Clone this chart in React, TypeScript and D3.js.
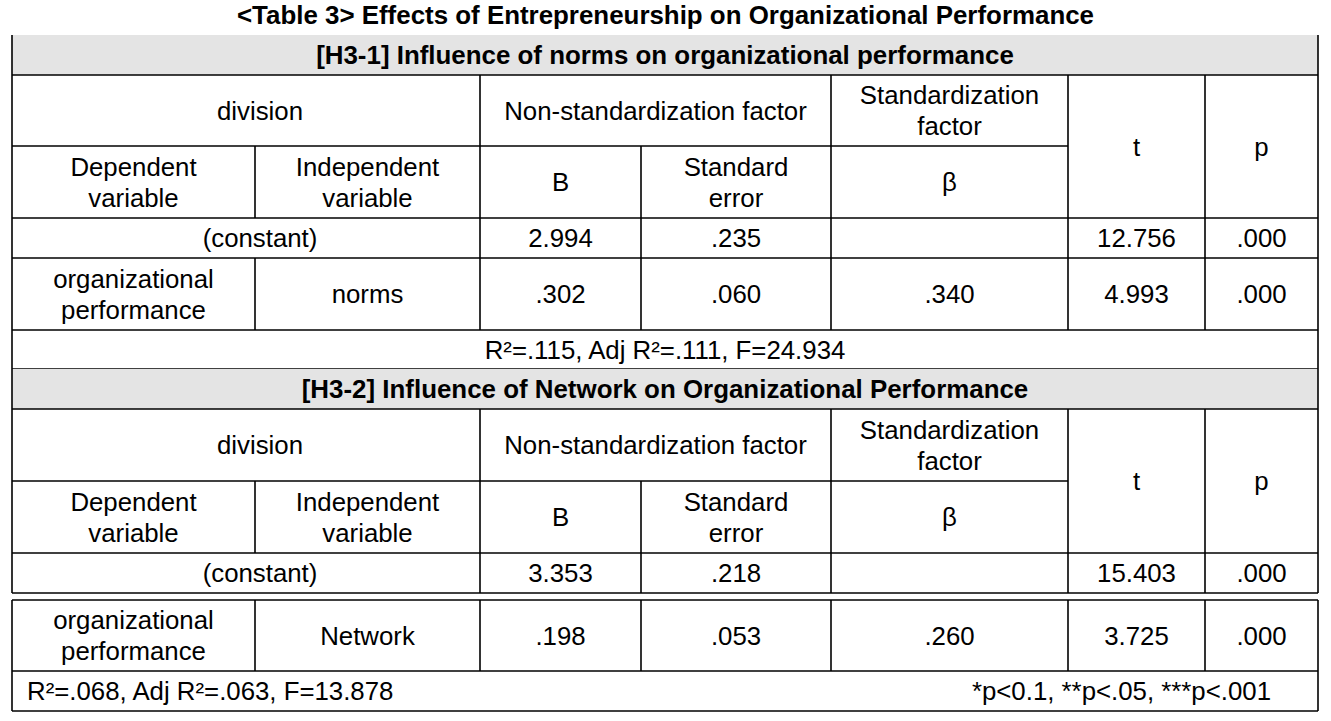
import React, { useEffect, useRef } from "react";
import * as d3 from "d3";

const tableTitle = "<Table 3> Effects of Entrepreneurship on Organizational Performance";
const sectionTitles = [
  "[H3-1] Influence of norms on organizational performance",
  "[H3-2] Influence of Network on Organizational Performance",
];
const headerTop = [["division"], ["Non-standardization factor"], ["Standardization", "factor"], ["t"], ["p"]];
const headerBottom = [["Dependent", "variable"], ["Independent", "variable"], ["B"], ["Standard", "error"], ["β"]];
const constantLabel = "(constant)";
const dependentVars = [["organizational", "performance"], ["organizational", "performance"]];
const independentVars = ["norms", "Network"];
const constantB = ["2.994", "3.353"];
const constantSE = [".235", ".218"];
const constantT = ["12.756", "15.403"];
const constantP = [".000", ".000"];
const coefB = [".302", ".198"];
const coefSE = [".060", ".053"];
const coefBeta = [".340", ".260"];
const coefT = ["4.993", "3.725"];
const coefP = [".000", ".000"];
const fitStats = ["R²=.115, Adj R²=.111, F=24.934", "R²=.068, Adj R²=.063, F=13.878"];
const footnote = "*p<0.1, **p<.05, ***p<.001";

const W = 1331;
const H = 721;
const FONT = "'Liberation Sans', Arial, sans-serif";
const FS = 25.8;
const FSB = 25.9;
const LINE = 31;

// column boundaries
const colEdges = [12, 255, 480, 641, 831, 1068, 1205, 1318];
// section row boundaries
const sections = [
  { top: 35, gray: 75, h1: 146, h2: 218, cst: 258, varTop: 258, varBot: 330, fit: 369, fitAlign: "center" },
  { top: 369, gray: 409, h1: 481, h2: 553, cst: 593, varTop: 600, varBot: 671, fit: 711, fitAlign: "split" },
];

export default function App() {
  const ref = useRef<SVGSVGElement>(null);

  useEffect(() => {
    const svg = d3.select(ref.current);
    svg.selectAll("*").remove();
    const x = d3.scaleOrdinal<number, number>().domain(d3.range(colEdges.length)).range(colEdges);
    const X = (i: number) => x(i) as number;
    const left = X(0);
    const right = X(colEdges.length - 1);

    const text = (
      g: any,
      cx: number,
      cy: number,
      lines: string[],
      bold = false,
      anchor = "middle"
    ) => {
      const t = g
        .append("text")
        .attr("font-family", FONT)
        .attr("font-size", bold ? FSB : FS)
        .attr("font-weight", bold ? "bold" : "normal")
        .attr("fill", "#000")
        .attr("text-anchor", anchor);
      lines.forEach((ln, i) => {
        t.append("tspan")
          .attr("x", cx)
          .attr("y", cy + (i - (lines.length - 1) / 2) * LINE)
          .attr("dy", "0.36em")
          .text(ln);
      });
    };

    const hline = (g: any, y: number, x0: number, x1: number) =>
      g.append("line").attr("x1", x0).attr("x2", x1).attr("y1", y).attr("y2", y)
        .attr("stroke", "#000").attr("stroke-width", 1.6);
    const vline = (g: any, xx: number, y0: number, y1: number) =>
      g.append("line").attr("x1", xx).attr("x2", xx).attr("y1", y0).attr("y2", y1)
        .attr("stroke", "#000").attr("stroke-width", 1.6);

    const mid = (a: number, b: number) => (a + b) / 2;
    // merged label cells in the source are set slightly right of their cell centre
    const mergedLabelX = mid(X(0), X(2)) + 14;

    text(svg, W / 2, 15, [tableTitle], true);

    sections.forEach((s, k) => {
      const g = svg.append("g");
      g.append("rect").attr("x", left).attr("y", s.top).attr("width", right - left)
        .attr("height", s.gray - s.top).attr("fill", "#e4e4e4");

      // horizontal lines
      hline(g, s.gray, left, right);
      hline(g, s.h1, left, X(5));
      hline(g, s.h2, left, right);
      hline(g, s.cst, left, right);
      if (s.varTop !== s.cst) hline(g, s.varTop, left, right);
      hline(g, s.varBot, left, right);
      hline(g, s.fit, left, right);

      // outer verticals
      vline(g, left, s.top, s.cst);
      vline(g, right, s.top, s.cst);
      vline(g, left, s.varTop, s.fit);
      vline(g, right, s.varTop, s.fit);

      // inner verticals
      [2, 4, 5, 6].forEach((c) => vline(g, X(c), s.gray, s.h1));
      [1, 2, 3, 4, 5, 6].forEach((c) => vline(g, X(c), s.h1, s.h2));
      [2, 3, 4, 5, 6].forEach((c) => vline(g, X(c), s.h2, s.cst));
      [1, 2, 3, 4, 5, 6].forEach((c) => vline(g, X(c), s.varTop, s.varBot));

      // section title
      text(g, mid(left, right), mid(s.top, s.gray), [sectionTitles[k]], true);

      // header row 1
      const hr1 = mid(s.gray, s.h1);
      text(g, mergedLabelX, hr1, headerTop[0]);
      text(g, mid(X(2), X(4)), hr1, headerTop[1]);
      text(g, mid(X(4), X(5)), hr1, headerTop[2]);
      text(g, mid(X(5), X(6)), mid(s.gray, s.h2), headerTop[3]);
      text(g, mid(X(6), X(7)), mid(s.gray, s.h2), headerTop[4]);

      // header row 2
      const hr2 = mid(s.h1, s.h2);
      headerBottom.forEach((lines, i) => text(g, mid(X(i), X(i + 1)), hr2, lines));

      // constant row
      const cr = mid(s.h2, s.cst);
      text(g, mergedLabelX, cr, [constantLabel]);
      text(g, mid(X(2), X(3)), cr, [constantB[k]]);
      text(g, mid(X(3), X(4)), cr, [constantSE[k]]);
      text(g, mid(X(5), X(6)), cr, [constantT[k]]);
      text(g, mid(X(6), X(7)), cr, [constantP[k]]);

      // variable row
      const vr = mid(s.varTop, s.varBot);
      text(g, mid(X(0), X(1)), vr, dependentVars[k]);
      text(g, mid(X(1), X(2)), vr, [independentVars[k]]);
      text(g, mid(X(2), X(3)), vr, [coefB[k]]);
      text(g, mid(X(3), X(4)), vr, [coefSE[k]]);
      text(g, mid(X(4), X(5)), vr, [coefBeta[k]]);
      text(g, mid(X(5), X(6)), vr, [coefT[k]]);
      text(g, mid(X(6), X(7)), vr, [coefP[k]]);

      // fit row
      const fr = mid(s.varBot, s.fit);
      if (s.fitAlign === "center") {
        text(g, mid(left, right), fr, [fitStats[k]]);
      } else {
        text(g, left + 15, fr, [fitStats[k]], false, "start");
        text(g, right - 47, fr, [footnote], false, "end");
      }
    });
  }, []);

  return (
    <svg ref={ref} width={W} height={H} style={{ display: "block", position: "absolute", left: 0, top: 0, background: "#fff" }} />
  );
}
